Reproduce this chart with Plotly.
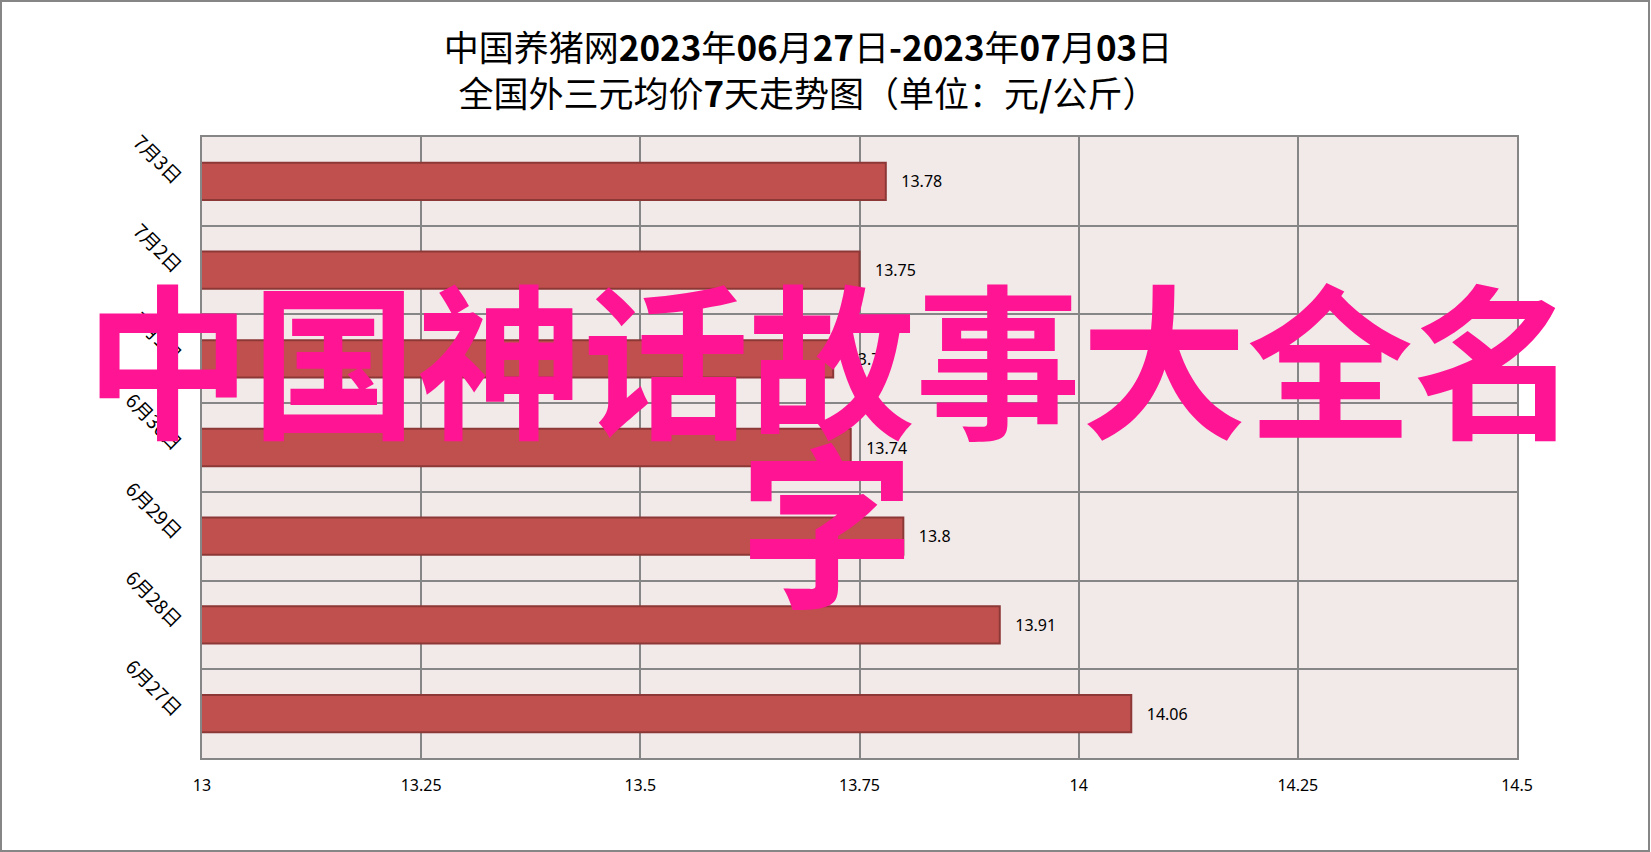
import plotly.graph_objects as go

dates = ["6月27日", "6月28日", "6月29日", "6月30日", "7月1日", "7月2日", "7月3日"]
prices = [14.06, 13.91, 13.80, 13.74, 13.72, 13.75, 13.78]
x_ticks = [13, 13.25, 13.5, 13.75, 14, 14.25, 14.5]
x_tick_labels = ["13", "13.25", "13.5", "13.75", "14", "14.25", "14.5"]

title_html = ("中国养猪网<b>2023</b>年<b>06</b>月<b>27</b>日<b>-2023</b>年<b>07</b>月<b>03</b>日"
              "<br>全国外三元均价<b>7</b>天走势图（单位：元<b>/</b>公斤）")
watermark_line1 = "中国神话故事大全名"
watermark_line2 = "字"

W, H = 1651, 852
L, R, T, B = 202, 134, 137, 94
pw, ph = W - L - R, H - T - B

def px_x(px):
    return (px - L) / pw

def px_y(py):
    return (H - B - py) / ph

fig = go.Figure()
fig.add_trace(go.Bar(
    x=prices, y=dates, orientation="h",
    marker=dict(color="#C0504D", line=dict(color="#8C3836", width=2)),
    text=[f"   {v:g}" for v in prices], textposition="outside",
    textfont=dict(family="Noto Sans", size=16, color="#000000"),
    cliponaxis=False, width=0.42,
))

fig.update_layout(
    width=W, height=H,
    margin=dict(l=L, r=R, t=T, b=B, autoexpand=False),
    paper_bgcolor="#FFFFFF", plot_bgcolor="#F2E9E9",
    showlegend=False,
    title=dict(text=title_html, x=808 / W, xanchor="center", xref="container",
               y=1 - 61 / H, yanchor="middle", yref="container",
               font=dict(family="Noto Sans CJK SC", size=35, color="#000000")),
    xaxis=dict(range=[13, 14.5], tickvals=x_ticks, ticktext=x_tick_labels,
               showgrid=True, gridcolor="#868686", gridwidth=2,
               showline=True, linecolor="#868686", linewidth=2, mirror=True,
               zeroline=False, ticks="", ticklabelstandoff=12,
               tickfont=dict(family="Noto Sans", size=16, color="#000000")),
    yaxis=dict(type="category", tickson="boundaries",
               showgrid=True, gridcolor="#868686", gridwidth=2,
               showline=True, linecolor="#868686", linewidth=2, mirror=True,
               ticks="", tickangle=45, ticklabelstandoff=16,
               tickfont=dict(family="Noto Sans CJK SC", size=19, color="#000000")),
)

fig.add_shape(type="rect", xref="paper", yref="paper",
              x0=px_x(1), x1=px_x(W - 2), y0=px_y(H - 1), y1=px_y(1),
              line=dict(color="#868686", width=2), fillcolor="rgba(0,0,0,0)", layer="above")

fig.add_annotation(text=watermark_line1, xref="paper", yref="paper",
                   x=px_x(832), y=px_y(353), xanchor="center", yanchor="middle",
                   showarrow=False,
                   font=dict(family="Noto Sans CJK SC", size=166, color="#FF1493", weight="bold"))
fig.add_annotation(text=watermark_line2, xref="paper", yref="paper",
                   x=px_x(827), y=px_y(517), xanchor="center", yanchor="middle",
                   showarrow=False,
                   font=dict(family="Noto Sans CJK SC", size=176, color="#FF1493", weight="bold"))

fig.write_html("out.html", config={"displayModeBar": False},
               post_script="document.body.style.margin='0';")
